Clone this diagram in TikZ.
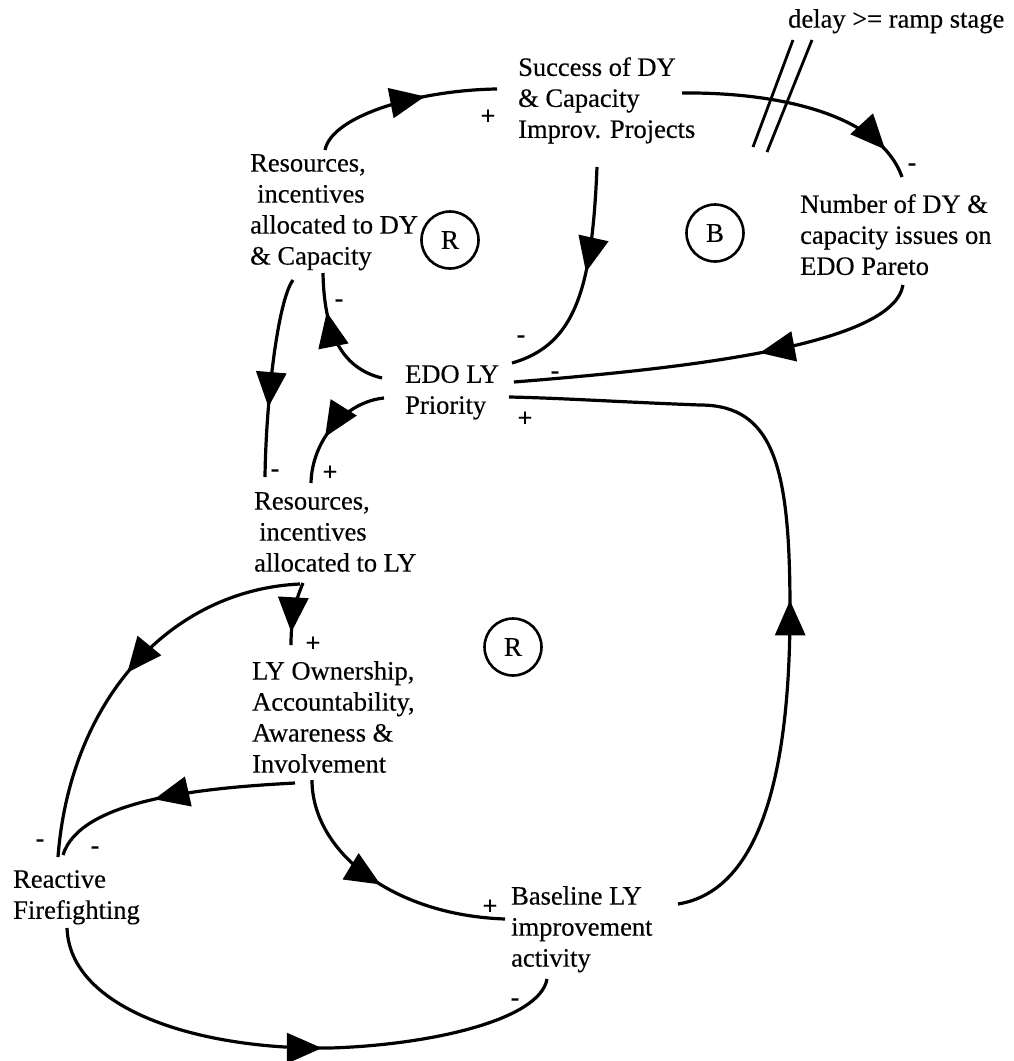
\documentclass[tikz,border=0pt]{standalone}
\usepackage{fontspec}
\setmainfont{Liberation Serif}[FakeBold=0.35]
\usetikzlibrary{arrows.meta,decorations.markings,calc}

\tikzset{
  lbl/.style={anchor=north west, inner sep=0pt, align=left,
              font=\fontsize{26.5}{31}\selectfont},
  loopmark/.style={draw, circle, line width=2.6pt, minimum size=57pt,
                   inner sep=0pt, font=\fontsize{27}{30}\selectfont},
  sgn/.style={inner sep=0pt, font=\fontsize{26}{26}\selectfont\bfseries},
  cld/.style={line width=3.2pt, postaction={decorate},
              decoration={markings, mark=at position #1 with
                {\arrow{Triangle[length=35pt,width=30pt]}}}},
  delaybar/.style={line width=2.8pt},
}

\begin{document}
\begin{tikzpicture}[x=1pt,y=-1pt]
\useasboundingbox (0,0) rectangle (1013,1061);

% variables
\node[lbl] (delay) at (788,9) {delay >= ramp stage};
\node[lbl] (succ) at (518,57) {Success of DY\\\& Capacity\\Improv. Projects};
\node[lbl] (resdy) at (250,154) {Resources,\\\hspace*{7pt}incentives\\allocated to DY\\\& Capacity};
\node[lbl] (num) at (800,194) {Number of DY \&\\capacity issues on\\EDO Pareto};
\node[lbl] (edo) at (405,365) {EDO LY\\Priority};
\node[lbl] (resly) at (254,492) {Resources,\\\hspace*{5pt}incentives\\allocated to LY};
\node[lbl] (own) at (252,661) {LY Ownership,\\Accountability,\\Awareness \&\\Involvement};
\node[lbl] (react) at (13,870) {Reactive\\Firefighting};
\node[lbl] (base) at (511,886) {Baseline LY\\improvement\\activity};

% loop markers
\node[loopmark] (r1) at (450,240) {R};
\node[loopmark] (b1) at (715,233) {B};
\node[loopmark] (r2) at (513,647) {R};

% causal links
\draw[cld=0.62] ([shift={(75,-4)}]resdy.north west)
  .. controls (332,115) and (420,90) .. ([shift={(-21,32)}]succ.north west);
\draw[cld=0.87] ([shift={(164,36)}]succ.north west)
  .. controls (780,92) and (880,115) .. ([shift={(102,-17)}]num.north west);
\draw[cld=0.40] ([shift={(103,91)}]num.north west)
  .. controls (893,345) and (690,368) .. ([shift={(109,17)}]edo.north west);
\draw[cld=0.46] ([shift={(79,110)}]succ.north west)
  .. controls (592,290) and (575,345) .. ([shift={(107,-2)}]edo.north west);
\draw[cld=0.70] ([shift={(-23,13)}]edo.north west)
  .. controls (340,368) and (324,330) .. ([shift={(73,119)}]resdy.north west);
\draw[cld=0.65] ([shift={(43,126)}]resdy.north west)
  .. controls (278,300) and (266,400) .. ([shift={(11,-15)}]resly.north west);
\draw[cld=0.60] ([shift={(-21,33)}]edo.north west)
  .. controls (345,402) and (312,440) .. ([shift={(57,-9)}]resly.north west);
\draw[cld=0.80] ([shift={(49,91)}]resly.north west)
  .. controls (296,600) and (291,615) .. ([shift={(39,-16)}]own.north west);
\draw[cld=0.50] ([shift={(46,92)}]resly.north west)
  .. controls (170,590) and (70,700) .. ([shift={(45,-13)}]react.north west);
\draw[cld=0.56] ([shift={(43,122)}]own.north west)
  .. controls (200,788) and (80,800) .. ([shift={(50,-15)}]react.north west);
\draw[cld=0.50] ([shift={(60,119)}]own.north west)
  .. controls (312,850) and (390,915) .. ([shift={(-6,33)}]base.north west);
\draw[cld=0.445] ([shift={(167,18)}]base.north west)
  .. controls (765,890) and (790,760) .. (790,610)
  .. controls (790,470) and (775,405) .. (700,405)
  .. controls (620,402) and (560,398) .. ([shift={(104,32)}]edo.north west);
\draw[cld=0.555] ([shift={(54,58)}]react.north west)
  .. controls (70,1010) and (200,1050) .. (330,1048)
  .. controls (430,1045) and (540,1020) .. ([shift={(36,93)}]base.north west);

% delay marks
\draw[delaybar] (793,40) -- (753,147);
\draw[delaybar] (812,40) -- (767,152);

% polarities
\node[sgn] (p1) at (488,117) {+};
\node[sgn] (p2) at (912,167) {-};
\node[sgn] (p3) at (555,375) {-};
\node[sgn] (p4) at (521,339) {-};
\node[sgn] (p5) at (339,303) {-};
\node[sgn] (p6) at (275,473) {-};
\node[sgn] (p7) at (330,473) {+};
\node[sgn] (p8) at (313,644) {+};
\node[sgn] (p9) at (40,843) {-};
\node[sgn] (p10) at (95,850) {-};
\node[sgn] (p11) at (490,907) {+};
\node[sgn] (p12) at (525,419) {+};
\node[sgn] (p13) at (515,1002) {-};
\end{tikzpicture}
\end{document}
